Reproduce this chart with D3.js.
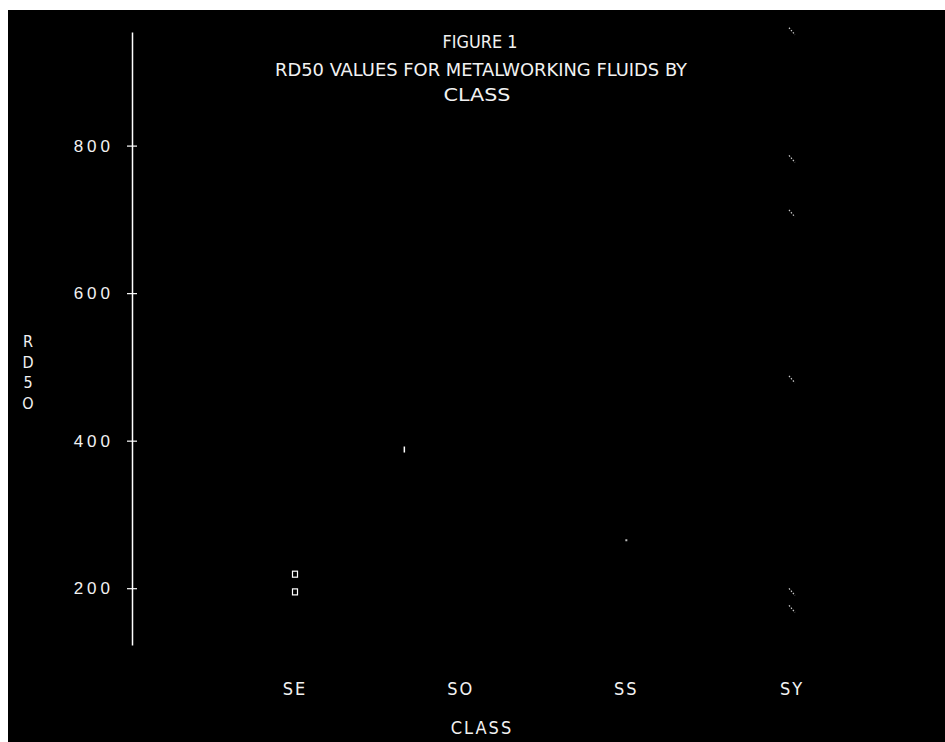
<!DOCTYPE html>
<html>
<head>
<meta charset="utf-8">
<script src="https://cdn.jsdelivr.net/npm/d3@7"></script>
<style>
  body { margin: 0; background: #fff; }
  text { font-family: "Liberation Sans Narrow", "DejaVu Sans Condensed", sans-serif; fill: #f2f2f2; }
</style>
</head>
<body>
<svg></svg>
<script>
// data
const classes = ["SE", "SO", "SS", "SY"];
const classSlots = [0, 0.66, 2, 3]; // where each class's points sit (SO is drawn left of its label)
const seRd50 = [219, 195];
const soRd50 = [388];
const ssRd50 = [265];
const syRd50 = [955, 782, 708, 483, 195, 172];
const yTicks = [200, 400, 600, 800];
const titleLines = ["FIGURE 1", "RD50 VALUES FOR METALWORKING FLUIDS BY", "CLASS"];

const W = 945, H = 742;
const svg = d3.select("svg").attr("width", W).attr("height", H);

// black frame of the scan
svg.append("rect").attr("x", 8).attr("y", 10)
  .attr("width", W - 8).attr("height", H - 10).attr("fill", "#000");

// scales
const y = d3.scaleLinear().domain([123, 954]).range([645, 32]);
const x = d3.scaleLinear().domain([0, 3]).range([295, 792]);
const axisX = 132;

// y axis
const yAxis = svg.append("g").attr("transform", `translate(${axisX},0)`)
  .call(d3.axisLeft(y).tickValues(yTicks).tickSize(0).tickPadding(18));
yAxis.select(".domain").attr("stroke", "#fff").attr("stroke-width", 1.5);
yAxis.selectAll(".tick text")
  .attr("font-size", 17).attr("letter-spacing", 4).attr("fill", "#f2f2f2")
  .style("font-family", "'Liberation Sans Narrow', sans-serif");
yAxis.selectAll(".tick").append("line")
  .attr("x1", -5).attr("x2", 5).attr("stroke", "#fff").attr("stroke-width", 1.2);

// y axis label, stacked letters
svg.append("g").selectAll("text")
  .data(["R", "D", "5", "O"])
  .enter().append("text")
  .attr("x", 28).attr("y", (d, i) => 347 + i * 20.5)
  .attr("text-anchor", "middle").attr("font-size", 16)
  .text(d => d);

// x tick labels (no axis line in the original)
svg.append("g").selectAll("text")
  .data(classes)
  .enter().append("text")
  .attr("x", (d, i) => x(i)).attr("y", 695)
  .attr("text-anchor", "middle").attr("font-size", 18).attr("letter-spacing", 2)
  .text(d => d);

svg.append("text").attr("x", 482).attr("y", 734)
  .attr("text-anchor", "middle").attr("font-size", 18).attr("letter-spacing", 2)
  .text("CLASS");

// title
const titleY = [48, 76, 101];
const titleX = [480, 481, 477];
const titleLen = [75, 412, 67];
svg.append("g").selectAll("text")
  .data(titleLines)
  .enter().append("text")
  .attr("x", (d, i) => titleX[i]).attr("y", (d, i) => titleY[i])
  .attr("text-anchor", "middle").attr("font-size", 18)
  .attr("textLength", (d, i) => titleLen[i]).attr("lengthAdjust", "spacingAndGlyphs")
  .text(d => d);

// points
const pts = svg.append("g");

pts.selectAll(".se").data(seRd50).enter().append("rect")
  .attr("x", x(classSlots[0]) - 2.5).attr("y", d => y(d) - 3)
  .attr("width", 5).attr("height", 6)
  .attr("fill", "none").attr("stroke", "#fff").attr("stroke-width", 1.2);

pts.selectAll(".so").data(soRd50).enter().append("line")
  .attr("x1", x(classSlots[1])).attr("x2", x(classSlots[1]))
  .attr("y1", d => y(d) - 3).attr("y2", d => y(d) + 3)
  .attr("stroke", "#fff").attr("stroke-width", 1.5);

pts.selectAll(".ss").data(ssRd50).enter().append("rect")
  .attr("x", x(classSlots[2]) - 1).attr("y", d => y(d) - 1)
  .attr("width", 2).attr("height", 2).attr("fill", "#bbb");

pts.selectAll(".sy").data(syRd50).enter().append("line")
  .attr("x1", x(classSlots[3]) - 3).attr("x2", x(classSlots[3]) + 3)
  .attr("y1", d => y(d) - 3.5).attr("y2", d => y(d) + 3.5)
  .attr("stroke", "#ccc").attr("stroke-width", 1.2).attr("stroke-dasharray", "1.5,1.5");
</script>
</body>
</html>
